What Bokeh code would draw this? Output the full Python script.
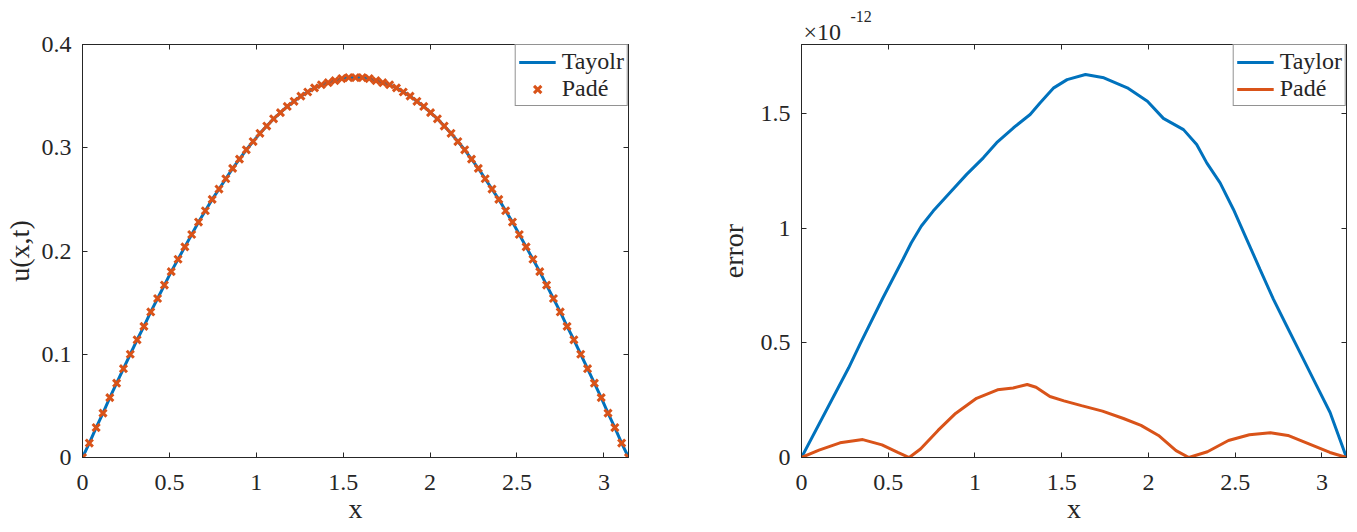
import numpy as np
from bokeh.plotting import figure
from bokeh.layouts import row
from bokeh.models import (LinearAxis, Range1d, FixedTicker, Legend, LegendItem,
                          NumeralTickFormatter, Title)
from bokeh.embed import file_html
from bokeh.resources import INLINE

# ---------------- data ----------------
# left panel: solution u(x,t) sampled on a uniform grid over [0, pi]
x_u = np.linspace(0, 3.14159, 81)
u_half = [0.000, 0.014, 0.029, 0.043, 0.058, 0.072, 0.086, 0.100, 0.114, 0.127,
          0.141, 0.154, 0.167, 0.180, 0.192, 0.204, 0.216, 0.228, 0.239, 0.250,
          0.260, 0.270, 0.280, 0.289, 0.298, 0.306, 0.314, 0.321, 0.328, 0.334,
          0.340, 0.345, 0.350, 0.354, 0.358, 0.361, 0.363, 0.365, 0.367, 0.368,
          0.368]
u_taylor = u_half + u_half[-2::-1]
u_pade = u_half + u_half[-2::-1]

# right panel: errors (units of 1e-12)
x_err_taylor = [0, 0.272, 0.338, 0.469, 0.585, 0.633, 0.691, 0.759, 0.855, 0.952,
                1.048, 1.125, 1.222, 1.318, 1.376, 1.454, 1.531, 1.637, 1.743, 1.878,
                1.994, 2.086, 2.202, 2.278, 2.336, 2.413, 2.490, 2.567, 2.643, 2.720,
                2.797, 2.874, 2.970, 3.047, 3.1416]
err_taylor = [0, 0.391, 0.495, 0.695, 0.864, 0.936, 1.009, 1.074, 1.154, 1.234,
              1.306, 1.372, 1.437, 1.495, 1.546, 1.611, 1.647, 1.669, 1.655, 1.611,
              1.553, 1.478, 1.429, 1.364, 1.284, 1.197, 1.081, 0.950, 0.820, 0.690,
              0.573, 0.457, 0.312, 0.196, 0]
x_err_pade = [0, 0.101, 0.222, 0.353, 0.464, 0.555, 0.621, 0.686, 0.787, 0.888,
              1.009, 1.130, 1.220, 1.301, 1.352, 1.432, 1.513, 1.614, 1.735, 1.856,
              1.957, 2.058, 2.159, 2.233, 2.340, 2.461, 2.582, 2.703, 2.804, 2.925,
              3.046, 3.1416]
err_pade = [0, 0.032, 0.064, 0.078, 0.055, 0.022, 0, 0.037, 0.118, 0.192,
            0.258, 0.295, 0.303, 0.318, 0.306, 0.266, 0.247, 0.226, 0.202, 0.170,
            0.140, 0.096, 0.030, 0, 0.025, 0.074, 0.099, 0.108, 0.096, 0.059,
            0.022, 0]

x_ticks = [0, 0.5, 1, 1.5, 2, 2.5, 3]
y_ticks_u = [0, 0.1, 0.2, 0.3, 0.4]
y_ticks_err = [0, 0.5, 1, 1.5]

# ---------------- style ----------------
BLUE = "#0072BD"
ORANGE = "#D95319"
AX = "#262626"
FONT = "Liberation Serif"
TICK_FS = "24px"
LABEL_FS = "28px"


def style_axes(p, xt, yt, xlabel, ylabel, ylabel_standoff):
    p.xgrid.visible = False
    p.ygrid.visible = False
    p.outline_line_color = AX
    p.outline_line_width = 1
    for ax, ticks in ((p.xaxis[0], xt), (p.yaxis[0], yt)):
        ax.ticker = FixedTicker(ticks=ticks)
        ax.formatter = NumeralTickFormatter(format="0.[0]")
        ax.major_tick_in = 5
        ax.major_tick_out = 0
        ax.minor_tick_line_color = None
        ax.axis_line_color = AX
        ax.major_tick_line_color = AX
        ax.major_label_text_font = FONT
        ax.major_label_text_font_size = TICK_FS
        ax.major_label_text_color = AX
        ax.major_label_text_line_height = 1.0
        ax.axis_label_text_font = FONT
        ax.axis_label_text_font_size = LABEL_FS
        ax.axis_label_text_font_style = "normal"
        ax.axis_label_text_color = AX
        ax.axis_label_text_line_height = 1.0
    p.xaxis[0].major_label_standoff = 17
    p.yaxis[0].major_label_standoff = 11
    p.xaxis[0].axis_label = xlabel
    p.xaxis[0].axis_label_standoff = 0
    p.yaxis[0].axis_label = ylabel
    p.yaxis[0].axis_label_standoff = ylabel_standoff
    for loc, ticks in (("above", xt), ("right", yt)):
        ax = LinearAxis(ticker=FixedTicker(ticks=ticks), major_tick_in=5,
                        major_tick_out=0, minor_tick_line_color=None,
                        axis_line_color=AX, major_tick_line_color=AX,
                        major_label_text_color=None,
                        major_label_text_font_size="1px", major_label_standoff=0)
        p.add_layout(ax, loc)


def make_legend(p, items):
    leg = Legend(items=items, location="top_right", margin=0, padding=3,
                 spacing=0, glyph_width=37, glyph_height=26, label_height=26,
                 label_standoff=6, label_text_font=FONT,
                 label_text_font_size=TICK_FS, label_text_color=AX,
                 border_line_color=AX, border_line_width=1,
                 background_fill_color="white", background_fill_alpha=1.0)
    p.add_layout(leg)


common = dict(frame_height=413, min_border_top=44, min_border_bottom=66,
              x_range=Range1d(0, 3.1416), output_backend="svg",
              toolbar_location=None, background_fill_color="white",
              border_fill_color="white")

# ---------------- left panel ----------------
p1 = figure(frame_width=546, min_border_left=79, min_border_right=10,
            y_range=Range1d(0, 0.4), **common)
style_axes(p1, x_ticks, y_ticks_u, "x", "u(x,t)", 4)
r_t = p1.line(x_u, u_taylor, line_color=BLUE, line_width=3)
r_p = p1.scatter(x_u, u_pade, marker="x", size=10, line_color=ORANGE,
                 line_width=3)
make_legend(p1, [LegendItem(label="Tayolr", renderers=[r_t]),
                 LegendItem(label="Padé", renderers=[r_p])])

# ---------------- right panel ----------------
p2 = figure(frame_width=545, min_border_left=163, min_border_right=4,
            y_range=Range1d(0, 1.8), **common)
style_axes(p2, x_ticks, y_ticks_err, "x", "error", 9)
r_et = p2.line(x_err_taylor, err_taylor, line_color=BLUE, line_width=3)
r_ep = p2.line(x_err_pade, err_pade, line_color=ORANGE, line_width=3)
make_legend(p2, [LegendItem(label="Taylor", renderers=[r_et]),
                 LegendItem(label="Padé", renderers=[r_ep])])
# scale factor "×10^-12": base next to the frame, raised exponent outermost
p2.add_layout(Title(text="\u00d710", align="left", offset=2, standoff=0,
                    text_font=FONT, text_font_size="24px",
                    text_font_style="normal", text_color=AX,
                    text_line_height=1.0), "above")
p2.title = Title(text="-12", align="left", offset=49, standoff=-11,
                 text_font=FONT, text_font_size="16px",
                 text_font_style="normal", text_color=AX,
                 text_line_height=1.0)

layout = row(p1, p2)
open("out.html", "w").write(file_html(layout, INLINE))
